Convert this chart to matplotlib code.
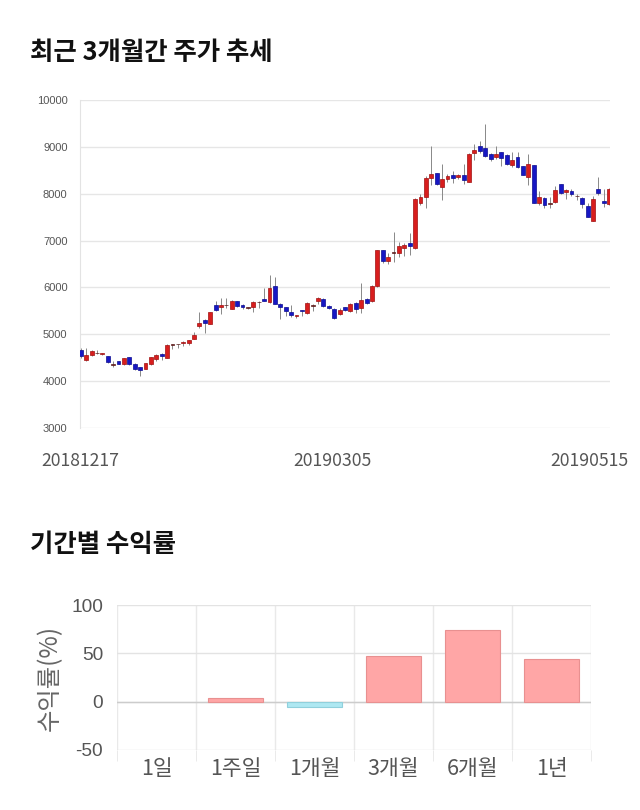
import matplotlib
matplotlib.use("Agg")
import matplotlib.pyplot as plt
import numpy as np

# ---- candlestick data (KRW) ----
dates_labels = ["20181217", "20190305", "20190515"]
date_label_pos = [0, 46.7, 94.4]
opens = [4670, 4460, 4565, 4610, 4570, 4530, 4360, 4420, 4370, 4510,
         4365, 4293, 4257, 4365, 4470, 4584, 4493, 4780, 4785, 4810,
         4810, 4910, 5167, 5310, 5217, 5630, 5572, 5625, 5544, 5715,
         5622, 5575, 5572, 5685, 5757, 5679, 6030, 5650, 5572, 5466,
         5385, 5510, 5452, 5600, 5700, 5757, 5608, 5537, 5430, 5580,
         5487, 5665, 5558, 5757, 5700, 6020, 6790, 6574, 6740, 6730,
         6837, 6944, 6837, 7797, 7940, 8330, 8436, 8152, 8316, 8400,
         8365, 8400, 8258, 8863, 9020, 8970, 8848, 8792, 8884, 8827,
         8607, 8777, 8593, 8351, 8607, 7811, 7918, 7790, 7833, 8202,
         8045, 8067, 7958, 7903, 7740, 7428, 8103, 7854, 7783]
highs = [4700, 4710, 4660, 4660, 4610, 4540, 4430, 4430, 4500, 4520,
         4380, 4300, 4390, 4520, 4570, 4600, 4790, 4800, 4800, 4850,
         4880, 5050, 5470, 5320, 5480, 5710, 5770, 5770, 5740, 5720,
         5650, 5590, 5700, 5720, 5990, 6269, 6230, 5660, 5580, 5620,
         5420, 5520, 5690, 5640, 5800, 5770, 5620, 5560, 5560, 5590,
         5660, 5680, 6090, 5780, 6060, 6800, 6800, 6730, 7190, 6960,
         6940, 7170, 7900, 8000, 8380, 9020, 8450, 8640, 8420, 8480,
         8420, 8640, 8870, 9070, 9130, 9488, 8860, 9020, 8900, 8840,
         8900, 8900, 8600, 8840, 8620, 8050, 7940, 7930, 8170, 8210,
         8110, 8110, 8000, 7930, 7810, 7950, 8350, 8090, 8120]
lows = [4500, 4440, 4530, 4580, 4550, 4380, 4300, 4360, 4350, 4350,
        4240, 4110, 4250, 4350, 4440, 4450, 4490, 4690, 4700, 4750,
        4780, 4890, 5130, 5020, 5210, 5500, 5440, 5560, 5540, 5580,
        5540, 5550, 5480, 5560, 5700, 5670, 5640, 5320, 5380, 5370,
        5340, 5380, 5440, 5490, 5640, 5580, 5540, 5330, 5420, 5490,
        5470, 5450, 5450, 5650, 5690, 6010, 6520, 6500, 6550, 6650,
        6680, 6700, 6830, 7760, 7700, 8180, 8180, 7860, 8250, 8230,
        8310, 8210, 8250, 8720, 8870, 8780, 8700, 8740, 8600, 8620,
        8580, 8550, 8390, 8180, 7800, 7760, 7700, 7700, 7800, 7990,
        7890, 7950, 7870, 7700, 7500, 7420, 7980, 7720, 7760]
closes = [4530, 4560, 4635, 4600, 4600, 4400, 4345, 4370, 4490, 4365,
          4257, 4230, 4385, 4505, 4555, 4527, 4776, 4790, 4795, 4840,
          4868, 4980, 5250, 5240, 5473, 5509, 5630, 5635, 5715, 5608,
          5572, 5565, 5686, 5695, 5714, 5985, 5645, 5580, 5495, 5410,
          5410, 5490, 5665, 5615, 5778, 5594, 5558, 5338, 5522, 5508,
          5643, 5550, 5736, 5665, 6034, 6790, 6574, 6645, 6750, 6894,
          6915, 6887, 7882, 7925, 8330, 8422, 8209, 8308, 8380, 8330,
          8400, 8294, 8848, 8934, 8920, 8806, 8735, 8848, 8756, 8635,
          8720, 8564, 8400, 8628, 7811, 7925, 7761, 7800, 8082, 8025,
          8082, 7996, 7950, 7775, 7512, 7889, 8025, 7797, 8096]
price_yticks = [3000, 4000, 5000, 6000, 7000, 8000, 9000, 10000]

# ---- period returns (%) ----
periods = ["1일", "1주일", "1개월", "3개월", "6개월", "1년"]
returns = [0.0, 3.5, -6.0, 47.0, 74.0, 44.0]
ret_yticks = [-50, 0, 50, 100]

KR = ["Noto Sans CJK KR", "DejaVu Sans"]

fig = plt.figure(figsize=(6.4, 8.1), dpi=100)
fig.patch.set_facecolor("white")

# Titles
fig.text(30 / 640, 1 - 52 / 810, "최근 3개월간 주가 추세", family=KR,
         fontsize=18.3, fontweight="bold", color="#111111", va="center", ha="left")
fig.text(30 / 640, 1 - 544 / 810, "기간별 수익률", family=KR,
         fontsize=18.3, fontweight="bold", color="#111111", va="center", ha="left")

# ---- candle chart ----
ax1 = fig.add_axes([80 / 640, 1 - 428 / 810, 530 / 640, 328 / 810])
x = np.arange(len(opens))
o = np.array(opens, dtype=float)
c = np.array(closes, dtype=float)
h = np.array(highs, dtype=float)
l = np.array(lows, dtype=float)
up = c >= o
ax1.vlines(x, l, h, color="#888888", lw=0.7, zorder=2)
bottoms = np.minimum(o, c)
heights = np.abs(c - o)
face = np.where(up, "#d81e1e", "#1717c4")
edge = np.where(up, "#a01010", "#0c0c90")
doji = heights < 20
face = np.where(doji, "#7a2a2a", face)
edge = np.where(doji, "#5a1a1a", edge)
ax1.bar(x, heights, bottom=bottoms, width=0.72, color=face, edgecolor=edge,
        linewidth=0.5, zorder=3)
ax1.set_xlim(-0.15, len(opens) - 1 + 0.15)
ax1.set_ylim(3000, 10000)
ax1.set_yticks(price_yticks)
ax1.set_yticklabels([str(v) for v in price_yticks], family=["Liberation Sans"],
                    fontsize=8, color="#555555")
ax1.set_xticks(date_label_pos)
ax1.set_xticklabels(dates_labels, family=KR, fontsize=12.7, color="#555555")
ax1.tick_params(axis="both", length=0)
ax1.tick_params(axis="y", pad=9)
ax1.tick_params(axis="x", pad=17)
ax1.grid(axis="y", color="#e6e6e6", lw=1)
ax1.set_axisbelow(True)
for s in ["top", "right", "bottom"]:
    ax1.spines[s].set_visible(False)
ax1.spines["left"].set_color("#e3e3e3")

# ---- returns bar chart ----
ax2 = fig.add_axes([117 / 640, 1 - 750 / 810, 474 / 640, 145 / 810])
xb = np.arange(len(periods))
cols = ["#ffa6a6" if v >= 0 else "#aee8f2" for v in returns]
ecols = ["#e89090" if v >= 0 else "#90d0dc" for v in returns]
lws = [0.8 if v != 0 else 0 for v in returns]
ax2.bar(xb, returns, width=0.7, color=cols, edgecolor=ecols, linewidth=lws, zorder=3)
ax2.set_xlim(-0.5, len(periods) - 0.5)
ax2.set_ylim(-50, 100)
ax2.set_yticks(ret_yticks)
ax2.set_yticklabels([str(v) for v in ret_yticks], family=["Liberation Sans"],
                    fontsize=13.8, color="#555555")
ax2.set_xticks(xb)
ax2.set_xticklabels(periods, family=KR, fontsize=15.5, color="#555555")
ax2.set_xticks(np.arange(len(periods) + 1) - 0.5, minor=True)
ax2.tick_params(axis="both", which="major", length=0)
ax2.tick_params(axis="x", which="minor", length=8, color="#e6e6e6")
ax2.tick_params(axis="y", pad=10)
ax2.tick_params(axis="x", pad=6)
ax2.grid(axis="y", color="#e3e3e3", lw=1, zorder=0)
ax2.grid(axis="x", which="minor", color="#e9e9e9", lw=1, zorder=0)
ax2.axhline(0, color="#cccccc", lw=1, zorder=1)
ax2.set_axisbelow(True)
for s in ["top", "right", "bottom", "left"]:
    ax2.spines[s].set_visible(False)
ax2.set_ylabel("수익률(%)", family=KR, fontsize=17.5, color="#666666", labelpad=6)

fig.savefig("out.png", dpi=100, facecolor="white")
